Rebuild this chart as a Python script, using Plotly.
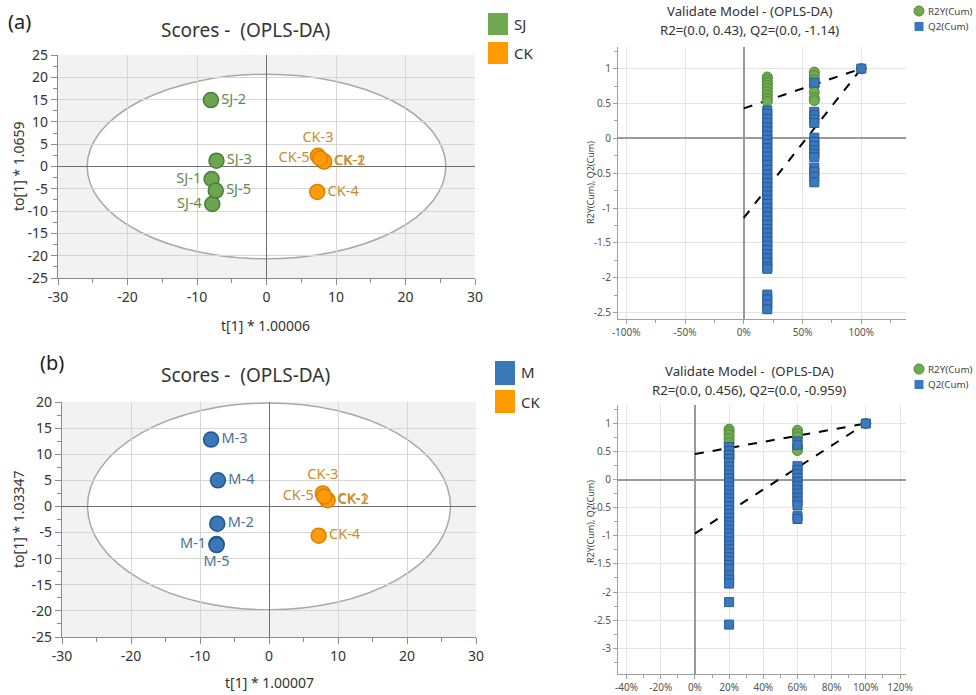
import plotly.graph_objects as go

# ---------------- data ----------------
# (a) scores
sj_names = ["SJ-1", "SJ-2", "SJ-3", "SJ-4", "SJ-5"]
sj_t = [-7.9, -8.0, -7.2, -7.8, -7.3]
sj_to = [-2.8, 14.9, 1.3, -8.4, -5.4]
ck_names = ["CK-1", "CK-2", "CK-3", "CK-4", "CK-5"]
ck_t_a = [8.2, 8.3, 7.4, 7.3, 7.7]
ck_to_a = [1.2, 1.1, 2.4, -5.7, 1.8]
# (b) scores
m_names = ["M-1", "M-2", "M-3", "M-4", "M-5"]
m_t = [-7.6, -7.5, -8.4, -7.4, -7.6]
m_to = [-7.2, -3.3, 12.8, 5.0, -7.4]
ck_t_b = [8.4, 8.5, 7.8, 7.2, 8.0]
ck_to_b = [1.3, 1.2, 2.5, -5.6, 1.9]
# Hotelling T2 ellipse half-axes (t, to)
ellipse_a = [25.8, 20.7]
ellipse_b = [26.3, 19.8]

# permutation validation
perm_levels = [0.2, 0.6, 1.0]
r2y_a = [
    [0.88, 0.84, 0.80, 0.76, 0.72, 0.67, 0.62, 0.57, 0.53],
    [0.95, 0.90, 0.84, 0.75, 0.66, 0.58, 0.54],
    [1.0],
]
q2_a = [
    [0.40, 0.35, 0.28, 0.22, 0.16, 0.10, 0.04, -0.02, -0.08, -0.14, -0.20, -0.26,
     -0.32, -0.38, -0.45, -0.52, -0.58, -0.64, -0.70, -0.76, -0.82, -0.88, -0.94,
     -1.00, -1.06, -1.12, -1.18, -1.24, -1.30, -1.36, -1.42, -1.48, -1.54, -1.60,
     -1.66, -1.72, -1.78, -1.84, -1.87, -2.24, -2.31, -2.38, -2.45],
    [0.80, 0.38, 0.33, 0.27, 0.22, 0.01, -0.05, -0.11, -0.17, -0.22, -0.27,
     -0.42, -0.48, -0.55, -0.63],
    [1.0],
]
r2_intercept_a = 0.43
q2_intercept_a = -1.14

r2y_b = [
    [0.90, 0.85, 0.80, 0.73, 0.66, 0.58, 0.50, 0.44, 0.39],
    [0.88, 0.82, 0.76, 0.58, 0.52],
    [1.0],
]
q2_b = [
    [0.58, 0.51, 0.44, 0.37, 0.30, 0.23, 0.16, 0.09, 0.02, -0.05, -0.12, -0.19,
     -0.26, -0.33, -0.40, -0.47, -0.54, -0.61, -0.68, -0.75, -0.82, -0.89, -0.96,
     -1.03, -1.10, -1.17, -1.24, -1.31, -1.38, -1.45, -1.52, -1.59, -1.70, -1.78,
     -1.85, -2.18, -2.58],
    [0.68, 0.62, 0.24, 0.17, 0.10, 0.03, -0.04, -0.11, -0.18, -0.25, -0.32, -0.39,
     -0.46, -0.65, -0.70],
    [1.0],
]
r2_intercept_b = 0.456
q2_intercept_b = -0.959

# tick labels
score_x_ticks = [-30, -20, -10, 0, 10, 20, 30]
score_y_ticks_a = [-25, -20, -15, -10, -5, 0, 5, 10, 15, 20, 25]
score_y_ticks_b = [-25, -20, -15, -10, -5, 0, 5, 10, 15, 20]
val_x_ticks_a = [-1.0, -0.5, 0.0, 0.5, 1.0]
val_x_labels_a = ["-100%", "-50%", "0%", "50%", "100%"]
val_y_ticks_a = [-2.5, -2.0, -1.5, -1.0, -0.5, 0.0, 0.5, 1.0]
val_y_labels_a = ["-2.5", "-2", "-1.5", "-1", "-0.5", "0", "0.5", "1"]
val_x_ticks_b = [-0.4, -0.2, 0.0, 0.2, 0.4, 0.6, 0.8, 1.0, 1.2]
val_x_labels_b = ["-40%", "-20%", "0%", "20%", "40%", "60%", "80%", "100%", "120%"]
val_y_ticks_b = [-3.0, -2.5, -2.0, -1.5, -1.0, -0.5, 0.0, 0.5, 1.0]
val_y_labels_b = ["-3", "-2.5", "-2", "-1.5", "-1", "-0.5", "0", "0.5", "1"]

# ---------------- style ----------------
W, H = 976, 695
FONT = "Noto Sans"
GREEN, GREEN_LINE, GREEN_TXT = "#6ca550", "#4b7d35", "#5f8c4a"
ORANGE, ORANGE_LINE, ORANGE_TXT = "#ff9a0a", "#d98300", "#c98d2c"
BLUE, BLUE_LINE, BLUE_TXT = "#3b78b9", "#25558c", "#4a7398"
VGREEN, VGREEN_LINE = "#71aa52", "#4f8a36"
VBLUE, VBLUE_LINE = "#3a78c0", "#2a5a95"


def px_x(p):
    return p / W


def px_y(p):
    return 1 - p / H


fig = go.Figure()


def label(v):
    return [str(x) if x >= 0 else "-" + str(-x) for x in v]


# score traces
def score_trace(xs, ys, names, pos, color, line, tcolor, xa, ya):
    fig.add_trace(go.Scatter(
        x=xs, y=ys, text=names, mode="markers+text", textposition=pos,
        marker=dict(size=15, color=color, line=dict(color=line, width=1.5)),
        textfont=dict(family=FONT, size=14.5, color=tcolor),
        xaxis=xa, yaxis=ya, cliponaxis=False, hoverinfo="skip"))


score_trace(sj_t, sj_to, sj_names,
            ["middle left", "middle right", "middle right", "middle left", "middle right"],
            GREEN, GREEN_LINE, GREEN_TXT, "x", "y")
score_trace(ck_t_a, ck_to_a, ck_names,
            ["middle right", "middle right", "top center", "middle right", "middle left"],
            ORANGE, ORANGE_LINE, ORANGE_TXT, "x", "y")
score_trace(m_t, m_to, m_names,
            ["middle left", "middle right", "middle right", "middle right", "bottom center"],
            BLUE, BLUE_LINE, BLUE_TXT, "x3", "y3")
score_trace(ck_t_b, ck_to_b, ck_names,
            ["middle right", "middle right", "top center", "middle right", "middle left"],
            ORANGE, ORANGE_LINE, ORANGE_TXT, "x3", "y3")


# validation traces
def val_traces(r2y, q2, r2i, q2i, xa, ya):
    rx, ry, qx, qy = [], [], [], []
    for lvl, vals in zip(perm_levels, r2y):
        rx += [lvl] * len(vals)
        ry += vals
    for lvl, vals in zip(perm_levels, q2):
        qx += [lvl] * len(vals)
        qy += vals
    fig.add_trace(go.Scatter(x=[0, perm_levels[-1]], y=[r2i, r2y[-1][0]], mode="lines",
                             line=dict(color="black", width=2, dash="dash"),
                             xaxis=xa, yaxis=ya, hoverinfo="skip"))
    fig.add_trace(go.Scatter(x=[0, perm_levels[-1]], y=[q2i, q2[-1][0]], mode="lines",
                             line=dict(color="black", width=2, dash="dash"),
                             xaxis=xa, yaxis=ya, hoverinfo="skip"))
    fig.add_trace(go.Scatter(x=rx, y=ry, mode="markers",
                             marker=dict(symbol="circle", size=10, color=VGREEN,
                                         line=dict(color=VGREEN_LINE, width=1)),
                             xaxis=xa, yaxis=ya, hoverinfo="skip"))
    fig.add_trace(go.Scatter(x=qx, y=qy, mode="markers",
                             marker=dict(symbol="square", size=9, color=VBLUE,
                                         line=dict(color=VBLUE_LINE, width=1)),
                             xaxis=xa, yaxis=ya, hoverinfo="skip"))


val_traces(r2y_a, q2_a, r2_intercept_a, q2_intercept_a, "x2", "y2")
val_traces(r2y_b, q2_b, r2_intercept_b, q2_intercept_b, "x4", "y4")


# ---------------- axes ----------------
def score_axis(domain, rng, ticks, anchor, minor):
    return dict(domain=domain, range=rng, anchor=anchor, tickvals=ticks, ticktext=label(ticks),
                showgrid=True, gridcolor="#d6d6d6", gridwidth=1,
                zeroline=True, zerolinecolor="#6e6e6e", zerolinewidth=1.2,
                showline=True, linecolor="#8a8a8a", linewidth=1.2,
                ticks="outside", ticklen=6, tickcolor="#8a8a8a",
                minor=dict(dtick=minor, ticks="outside", ticklen=4, tickcolor="#8a8a8a", showgrid=False),
                tickfont=dict(family=FONT, size=14, color="#333333"), fixedrange=True,
                automargin=False)


def val_axis(domain, rng, ticks, labels, anchor, minor):
    return dict(domain=domain, range=rng, anchor=anchor, tickvals=ticks, ticktext=labels,
                showgrid=True, gridcolor="#e3e3e3", gridwidth=1,
                zeroline=True, zerolinecolor="#9a9a9a", zerolinewidth=1.5,
                showline=True, linecolor="#a0a0a0", linewidth=1,
                ticks="outside", ticklen=4, tickcolor="#a0a0a0",
                minor=dict(dtick=minor, ticks="outside", ticklen=3, tickcolor="#a0a0a0", showgrid=False),
                tickfont=dict(family=FONT, size=10, color="#555555"), fixedrange=True,
                automargin=False)


layout = dict(
    width=W, height=H, margin=dict(l=0, r=0, t=0, b=0, pad=0, autoexpand=False),
    paper_bgcolor="white", plot_bgcolor="white", showlegend=False,
    font=dict(family=FONT),
    xaxis=score_axis([px_x(58), px_x(475)], [-30, 30], score_x_ticks, "y", 5),
    yaxis=score_axis([px_y(278), px_y(55)], [-25, 25], score_y_ticks_a, "x", 2.5),
    xaxis3=score_axis([px_x(62), px_x(476)], [-30, 30], score_x_ticks, "y3", 5),
    yaxis3=score_axis([px_y(637), px_y(402)], [-25, 20], score_y_ticks_b, "x3", 2.5),
    xaxis2=val_axis([px_x(618), px_x(906)], [-1.07, 1.38], val_x_ticks_a, val_x_labels_a, "y2", 0.25),
    yaxis2=val_axis([px_y(319), px_y(47)], [-2.59, 1.31], val_y_ticks_a, val_y_labels_a, "x2", 0.25),
    xaxis4=val_axis([px_x(618), px_x(906)], [-0.45, 1.235], val_x_ticks_b, val_x_labels_b, "y4", 0.1),
    yaxis4=val_axis([px_y(674), px_y(405)], [-3.46, 1.33], val_y_ticks_b, val_y_labels_b, "x4", 0.25),
)
fig.update_layout(**layout)

# ---------------- shapes ----------------
shapes = []
for xa, ya, (ea, eb) in (("x", "y", ellipse_a), ("x3", "y3", ellipse_b)):
    shapes.append(dict(type="rect", xref=xa + " domain", yref=ya + " domain", x0=0, x1=1, y0=0, y1=1,
                       fillcolor="#f2f2f2", line=dict(width=0), layer="below"))
    shapes.append(dict(type="circle", xref=xa, yref=ya, x0=-ea, x1=ea, y0=-eb, y1=eb,
                       fillcolor="white", line=dict(color="#a8a8a8", width=1.5), layer="below"))


def psq(x0, y0, x1, y1, color):
    shapes.append(dict(type="rect", xref="paper", yref="paper",
                       x0=px_x(x0), x1=px_x(x1), y0=px_y(y1), y1=px_y(y0),
                       fillcolor=color, line=dict(width=0)))


# score legends
psq(488, 13, 508, 35, "#70a850")
psq(488, 42, 508, 64, "#ff9a00")
psq(495, 361, 515, 385, "#3b78b8")
psq(495, 390, 515, 413, "#ff9a00")

# validation legends
for cy in (11, 369):
    shapes.append(dict(type="circle", xref="paper", yref="paper",
                       x0=px_x(914), x1=px_x(924), y0=px_y(cy + 5), y1=px_y(cy - 5),
                       fillcolor=VGREEN, line=dict(color=VGREEN_LINE, width=1)))
    psq(914.5, cy + 11, 923.5, cy + 20, VBLUE)

fig.update_layout(shapes=shapes)

# ---------------- annotations ----------------
ann = []


def txt(x, y, s, size, color="#333333", xanchor="center", angle=0):
    ann.append(dict(x=px_x(x), y=px_y(y), xref="paper", yref="paper", text=s, showarrow=False,
                    xanchor=xanchor, yanchor="middle", textangle=angle,
                    font=dict(family=FONT, size=size, color=color)))


txt(6, 22, "(a)", 20, "#222222", "left")
txt(38, 362, "(b)", 20, "#222222", "left")
txt(245, 30, "Scores - \u00a0(OPLS-DA)", 19)
txt(245, 375, "Scores - \u00a0(OPLS-DA)", 19)
txt(265, 325, "t[1] * 1.00006", 14)
txt(269, 682, "t[1] * 1.00007", 14)
txt(18, 166, "to[1] * 1.0659", 14, angle=-90)
txt(18, 519, "to[1] * 1.03347", 14, angle=-90)
txt(512, 24, "SJ", 15, "#333333", "left")
txt(512, 53, "CK", 15, "#333333", "left")
txt(519, 372, "M", 15, "#333333", "left")
txt(519, 402, "CK", 15, "#333333", "left")

txt(749, 11, "Validate Model - (OPLS-DA)", 13.2)
txt(749, 30, "R2=(0.0, 0.43), Q2=(0.0, -1.14)", 13.2)
txt(749, 371, "Validate Model - \u00a0(OPLS-DA)", 13.2)
txt(749, 390, "R2=(0.0, 0.456), Q2=(0.0, -0.959)", 13.2)
txt(590, 183, "R2Y(Cum), Q2(Cum)", 9, "#444444", angle=-90)
txt(590, 522, "R2Y(Cum), Q2(Cum)", 9, "#444444", angle=-90)
for cy in (11, 369):
    txt(926, cy, "R2Y(Cum)", 9.8, "#444444", "left")
    txt(926, cy + 15.5, "Q2(Cum)", 9.8, "#444444", "left")

fig.update_layout(annotations=ann)

fig.write_html("out.html", config={"displayModeBar": False},
               post_script="document.body.style.margin='0px';document.body.style.padding='0px';")
